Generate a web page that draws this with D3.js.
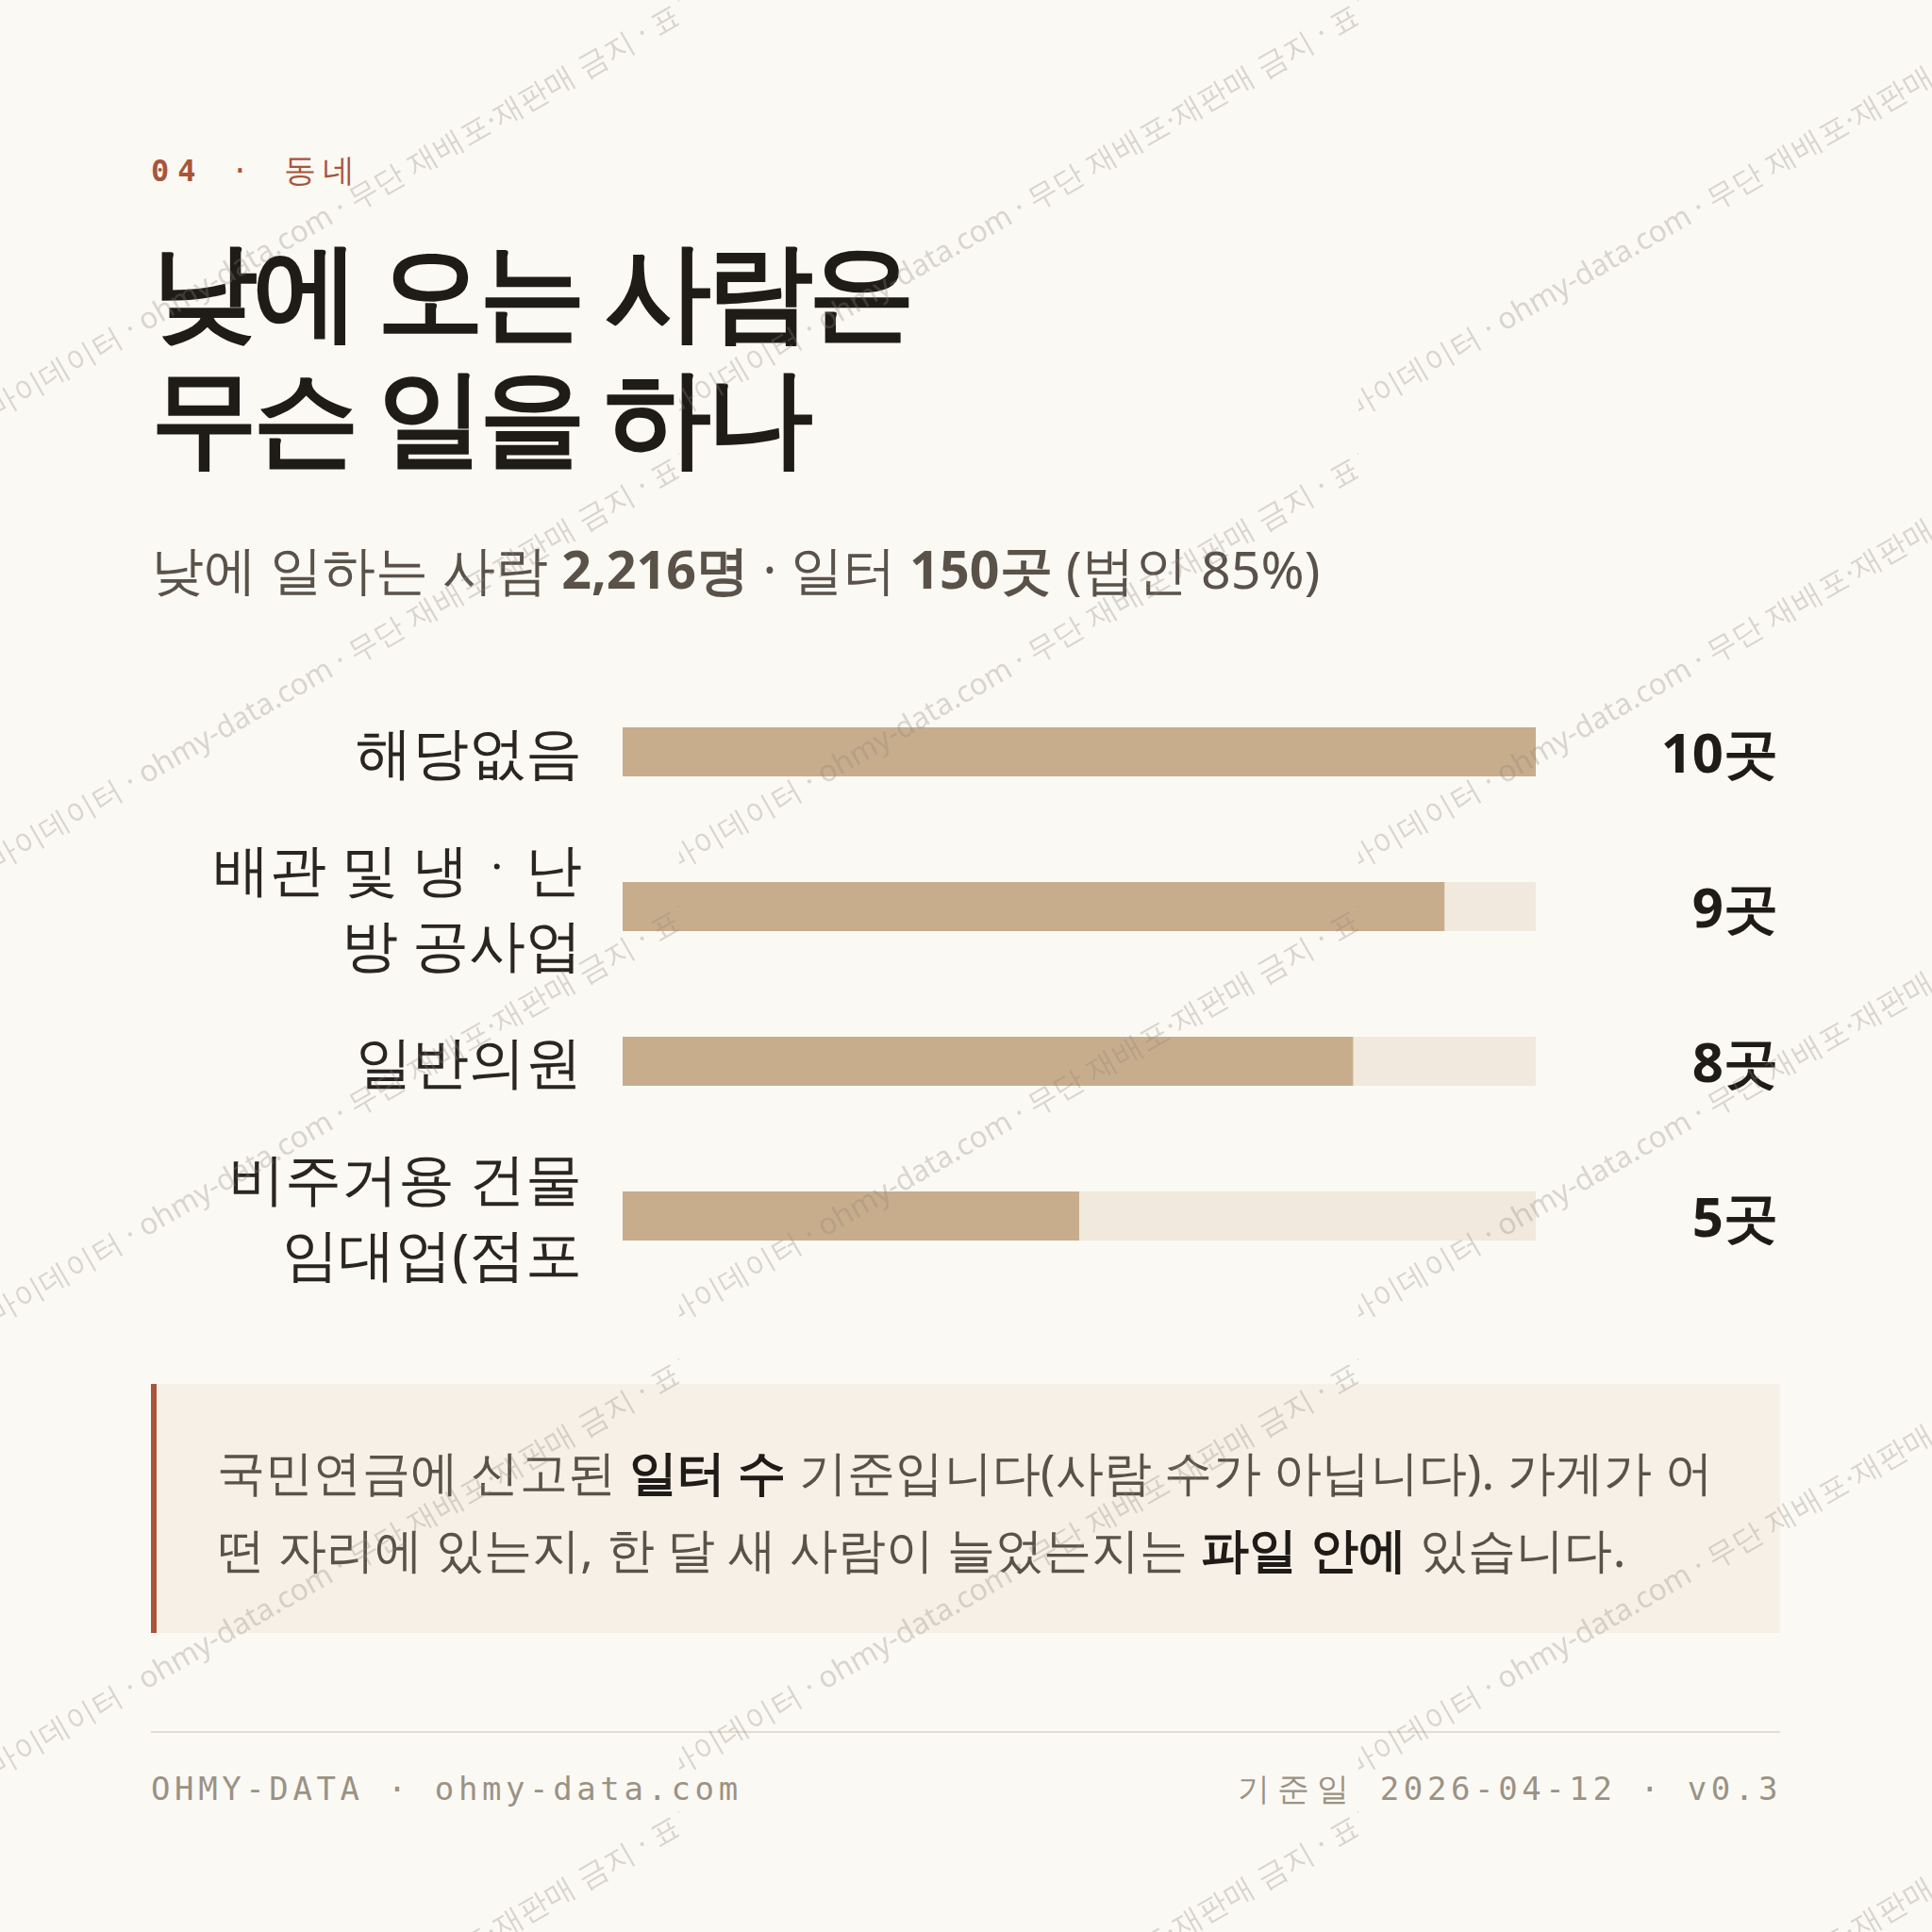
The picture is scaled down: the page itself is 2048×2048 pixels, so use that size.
<!DOCTYPE html>
<html><head><meta charset="utf-8">
<script src="https://cdn.jsdelivr.net/npm/d3@7"></script>
<style>
html,body{margin:0;padding:0;background:#fbf9f4;}
svg{display:block;}
</style></head><body>
<svg id="chart" width="2048" height="2048"></svg>
<script>
// ---- data ----
const categories = ["해당없음", "배관 및 냉ㆍ난방 공사업", "일반의원", "비주거용 건물 임대업(점포"];
const values = [10, 9, 8, 5];
const valueSuffix = "곳";
const eyebrowNum = "04";
const eyebrowLabel = "동네";
const titleLines = ["낮에 오는 사람은", "무슨 일을 하나"];
const subtitleParts = [["낮에 일하는 사람 ", false], ["2,216명", true], [" · 일터 ", false], ["150곳", true], [" (법인 85%)", false]];
const noteLines = [
  [["국민연금에 신고된 ", false], ["일터 수", true], [" 기준입니다(사람 수가 아닙니다). 가게가 어", false]],
  [["떤 자리에 있는지, 한 달 새 사람이 늘었는지는 ", false], ["파일 안에", true], [" 있습니다.", false]]
];
const footerLeft = "OHMY-DATA · ohmy-data.com";
const footerRight = ["기준일", " 2026-04-12 · v0.3"];
const watermarkText = "마이데이터 · ohmy-data.com · 무단 재배포·재판매 금지 · 표본";
const labelWrapChars = 8;

// ---- style ----
const W = 2048, H = 2048;
const SANS = "'Noto Sans',sans-serif";
const MONO = "'DejaVu Sans Mono',monospace";
const C = {bg:"#fbf9f4", ink:"#1f1b17", body:"#5a5249", accent:"#a9553a", fill:"#c8ad8c", track:"#f1e9dd", box:"#f6f0e6", foot:"#9b9284", rule:"#e6ddcf"};

const svg = d3.select("#chart").attr("viewBox", `0 0 ${W} ${H}`);
svg.append("rect").attr("width", W).attr("height", H).attr("fill", C.bg);

// eyebrow
const eb = svg.append("text").attr("x", 160).attr("y", 192)
  .attr("font-family", MONO).attr("font-size", 32).attr("letter-spacing", 9).attr("fill", C.accent);
eb.append("tspan").attr("font-weight", 700).text(eyebrowNum);
eb.append("tspan").attr("font-weight", 400).text(" · ");
eb.append("tspan").attr("font-weight", 400).attr("font-size", 34).attr("letter-spacing", 7).text(eyebrowLabel);

// title
svg.append("g").selectAll("text").data(titleLines).join("text")
  .attr("x", 160).attr("y", (d, i) => 348 + i * 134)
  .attr("font-family", SANS).attr("font-weight", 700).attr("font-size", 113).attr("letter-spacing", -5)
  .attr("fill", C.ink).text(d => d);

// subtitle
const st = svg.append("text").attr("x", 160).attr("y", 624)
  .attr("font-family", SANS).attr("font-size", 55.5).attr("fill", C.body);
st.selectAll("tspan").data(subtitleParts).join("tspan")
  .attr("font-weight", d => d[1] ? 700 : 400).text(d => d[0]);

// ---- bars ----
const x = d3.scaleLinear().domain([0, d3.max(values)]).range([660, 1628]);
const y = d3.scaleBand().domain(categories).range([715, 1371]).paddingInner(0.683).paddingOuter(0.3415);
const rows = categories.map((c, i) => ({c, v: values[i]}));

const g = svg.append("g");
g.selectAll("rect.track").data(rows).join("rect").attr("class", "track")
  .attr("x", x(0)).attr("y", d => y(d.c)).attr("width", x.range()[1] - x(0)).attr("height", y.bandwidth())
  .attr("fill", C.track);
g.selectAll("rect.bar").data(rows).join("rect").attr("class", "bar")
  .attr("x", x(0)).attr("y", d => y(d.c)).attr("width", d => x(d.v) - x(0)).attr("height", y.bandwidth())
  .attr("fill", C.fill);

const LBL_FS = 59.5, LBL_LH = 80;
function wrapChars(s, n) {
  const ch = Array.from(s), out = [];
  for (let i = 0; i < ch.length; i += n) out.push(ch.slice(i, i + n).join("").trim());
  return out.filter(d => d.length);
}
const labels = g.selectAll("text.cat").data(rows).join("text").attr("class", "cat")
  .attr("text-anchor", "end").attr("font-family", SANS).attr("font-size", LBL_FS)
  .attr("fill", "#2a2520");
labels.each(function(d) {
  const el = d3.select(this);
  const lines = wrapChars(d.c, labelWrapChars);
  const cy = y(d.c) + y.bandwidth() / 2;
  const base = cy + 0.37 * LBL_FS - (lines.length - 1) * LBL_LH / 2;
  lines.forEach((ln, i) => el.append("tspan").attr("x", 617).attr("y", base + i * LBL_LH).text(ln));
});

g.selectAll("text.val").data(rows).join("text").attr("class", "val")
  .attr("x", 1885).attr("y", d => y(d.c) + y.bandwidth() / 2 + 0.39 * 57)
  .attr("text-anchor", "end").attr("font-family", SANS).attr("font-weight", 700).attr("font-size", 58)
  .attr("fill", C.ink).text(d => d.v + valueSuffix);

// ---- note box ----
svg.append("rect").attr("x", 160).attr("y", 1467).attr("width", 1727).attr("height", 264).attr("fill", C.box);
svg.append("rect").attr("x", 160).attr("y", 1467).attr("width", 6).attr("height", 264).attr("fill", C.accent);
noteLines.forEach((parts, i) => {
  const t = svg.append("text").attr("x", 230).attr("y", 1579 + i * 82)
    .attr("font-family", SANS).attr("font-size", 51).attr("letter-spacing", 0.2).attr("fill", C.body);
  t.selectAll("tspan").data(parts).join("tspan")
    .attr("font-weight", d => d[1] ? 700 : 400).attr("fill", d => d[1] ? C.ink : C.body).text(d => d[0]);
});

// ---- footer ----
svg.append("line").attr("x1", 160).attr("x2", 1887).attr("y1", 1836).attr("y2", 1836)
  .attr("stroke", C.rule).attr("stroke-width", 2);
svg.append("text").attr("x", 160).attr("y", 1908).attr("font-family", MONO).attr("font-size", 34)
  .attr("letter-spacing", 4.6).attr("fill", C.foot).text(footerLeft);
const fr = svg.append("text").attr("x", 1889).attr("y", 1908).attr("text-anchor", "end")
  .attr("font-family", MONO).attr("font-size", 34).attr("letter-spacing", 4.6).attr("fill", C.foot);
fr.append("tspan").attr("letter-spacing", 8).text(footerRight[0]);
fr.append("tspan").text(footerRight[1]);

// ---- watermark ----
const defs = svg.append("defs");
const pat = defs.append("pattern").attr("id", "wm").attr("patternUnits", "userSpaceOnUse")
  .attr("x", 0).attr("y", 0).attr("width", 720).attr("height", 480);
pat.append("text").attr("transform", "translate(-6,444) rotate(-30)")
  .attr("font-family", SANS).attr("font-size", 31.5)
  .attr("fill", "#8c8377").attr("fill-opacity", 0.3).text(watermarkText);
svg.append("rect").attr("width", W).attr("height", H).attr("fill", "url(#wm)").attr("pointer-events", "none");
</script>
</body></html>
